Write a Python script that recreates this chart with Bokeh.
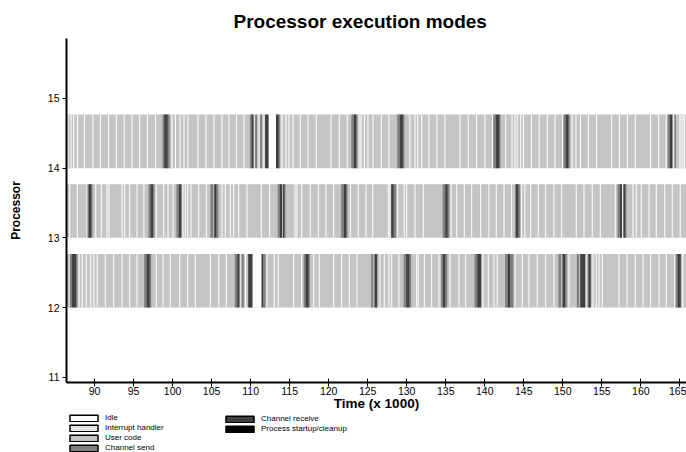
from bokeh.plotting import figure
from bokeh.layouts import column
from bokeh.models import ColumnDataSource, Legend, LegendItem, FixedTicker, Range1d
from bokeh.embed import file_html
from bokeh.resources import INLINE

# ---------------- data (times in thousands) ----------------
TITLE = "Processor execution modes"
X_LABEL = "Time (x 1000)"
Y_LABEL = "Processor"
X_TICKS = [90, 95, 100, 105, 110, 115, 120, 125, 130, 135, 140, 145, 150, 155, 160, 165]
Y_TICKS = [11, 12, 13, 14, 15]
PROCESSORS = [12, 13, 14]
TRACE_START, TRACE_END = 86.41, 165.85
Y_AXIS_START, Y_AXIS_END = 10.925, 15.86
BAR_HEIGHT = 0.77
IDLE_DUR = 0.13

MODES = ["Idle", "Interrupt handler", "User code", "Channel send",
         "Channel receive", "Process startup/cleanup"]
MODE_COLORS = ["#ffffff", "#e6e6e6", "#c4c4c4", "#808080", "#404040", "#000000"]

# short idle gaps (start times)
idle_12 = [86.76, 87.95, 88.37, 88.88, 89.45, 89.87, 90.29, 91.32, 92.39, 93.46, 94.44,
           95.38, 97.85, 98.71, 99.64, 100.85, 101.87, 102.85, 104.77, 105.85, 106.82,
           108.70, 109.28, 112.03, 112.97, 113.48, 115.45, 116.48, 118.02, 118.73, 120.58,
           121.60, 122.58, 123.57, 126.51, 127.06, 127.66, 128.01, 128.94, 131.21, 131.42,
           132.19, 133.13, 134.07, 135.48, 136.63, 137.49, 139.71, 140.39, 141.12, 141.54,
           143.81, 144.74, 145.60, 146.66, 147.74, 148.80, 150.73, 153.03, 153.80, 154.22,
           154.57, 154.99, 157.13, 158.16, 159.22, 160.21, 161.19, 162.26, 163.19, 164.27,
           165.33]
idle_13 = [86.76, 87.73, 88.97, 90.09, 90.80, 91.53, 91.79, 93.46, 93.80, 94.44, 95.38,
           96.27, 97.85, 98.80, 99.35, 99.99, 101.27, 101.57, 101.87, 102.30, 103.28,
           104.26, 106.27, 106.69, 107.33, 107.77, 108.41, 109.47, 111.30, 112.38, 114.04,
           115.62, 115.88, 116.48, 117.58, 118.61, 119.59, 120.58, 122.71, 123.73, 124.72,
           125.58, 127.57, 127.79, 128.78, 129.62, 129.93, 131.00, 132.06, 135.61, 136.34,
           137.31, 138.26, 139.41, 140.47, 141.41, 142.40, 143.38, 144.66, 145.09, 145.82,
           146.79, 147.74, 148.80, 149.79, 151.66, 152.65, 153.71, 154.74, 156.66, 157.64,
           158.93, 159.35, 159.99, 160.98, 161.91, 162.99, 163.96, 164.98]
idle_14 = [86.54, 86.92, 87.27, 87.76, 88.65, 89.74, 90.70, 91.73, 92.73, 93.74, 94.74,
           95.72, 96.72, 97.75, 99.86, 100.31, 100.89, 101.40, 101.91, 103.19, 104.22,
           105.24, 106.27, 107.17, 108.13, 109.09, 110.50, 111.01, 111.65, 113.96, 114.47,
           114.85, 115.37, 116.30, 117.29, 118.35, 120.23, 121.30, 122.32, 124.53, 124.97,
           125.61, 126.68, 127.66, 130.35, 130.99, 131.34, 131.85, 132.79, 133.81, 134.84,
           136.76, 137.82, 138.88, 139.97, 140.93, 142.62, 143.43, 143.81, 144.10, 144.54,
           144.90, 145.92, 146.91, 147.95, 148.93, 149.89, 151.14, 151.62, 152.20, 153.22,
           154.26, 156.20, 157.19, 158.22, 159.22, 161.17, 162.22, 163.18, 164.18, 165.52]

# longer idle periods (start, end)
idle_long_12 = [(110.24, 111.40)]
idle_long_13 = []
idle_long_14 = [(112.33, 113.25)]

# interrupt handler (start, end)
interrupt_12 = []
interrupt_13 = []
interrupt_14 = [(123.82, 124.27), (164.88, 165.58)]

# channel send (start, end)
send_12 = [(86.83, 87.11), (87.63, 87.82), (96.36, 96.66), (97.08, 97.26), (107.97, 108.28),
           (108.83, 109.13), (111.61, 111.91), (116.81, 117.03), (117.45, 117.58),
           (125.45, 125.70), (129.62, 129.93), (130.35, 130.57), (134.42, 134.62),
           (134.93, 135.19), (138.68, 139.03), (142.62, 142.95), (143.26, 143.68),
           (149.44, 149.79), (150.30, 150.51), (151.79, 152.10), (153.16, 153.29),
           (164.47, 164.69)]
send_13 = [(89.10, 89.23), (89.61, 89.74), (96.92, 97.17), (97.52, 97.68), (100.50, 100.80),
           (104.86, 105.21), (105.63, 105.85), (113.48, 113.74), (114.34, 114.47),
           (121.60, 121.94), (122.28, 122.41), (128.34, 128.65), (134.62, 134.93),
           (135.26, 135.48), (143.89, 143.97), (144.32, 144.54), (157.02, 157.32),
           (157.99, 158.16)]
send_14 = [(98.71, 98.93), (99.39, 99.64), (109.92, 110.11), (110.57, 110.82),
           (111.21, 111.46), (113.61, 113.74), (122.90, 123.22), (123.56, 123.69),
           (128.78, 129.10), (129.52, 129.71), (141.09, 141.40), (141.89, 142.01),
           (150.08, 150.37), (150.75, 150.88), (163.43, 163.70), (164.30, 164.49)]

# channel receive (start, end)
recv_12 = [(87.11, 87.63), (96.66, 97.08), (108.28, 108.57), (109.69, 110.24),
           (111.40, 111.61), (117.03, 117.45), (125.87, 126.22), (129.93, 130.35),
           (134.62, 134.93), (139.03, 139.54), (142.95, 143.26), (149.96, 150.30),
           (152.23, 152.87), (153.29, 153.58), (164.69, 165.12)]
recv_13 = [(89.23, 89.61), (97.17, 97.52), (100.80, 101.14), (105.33, 105.63),
           (113.74, 114.04), (114.12, 114.34), (121.94, 122.28), (128.01, 128.34),
           (134.93, 135.26), (143.97, 144.32), (157.32, 157.58), (157.76, 158.01)]
recv_14 = [(98.93, 99.39), (110.11, 110.37), (111.84, 112.29), (113.25, 113.61),
           (123.22, 123.56), (129.10, 129.52), (141.40, 141.89), (150.37, 150.75),
           (163.70, 164.04)]

# ---------------- build sources ----------------
def build(per_proc):
    left, right, bottom, top = [], [], [], []
    for proc, segs in per_proc:
        for s, e in segs:
            left.append(s)
            right.append(e)
            bottom.append(proc)
            top.append(proc + BAR_HEIGHT)
    return ColumnDataSource(dict(left=left, right=right, bottom=bottom, top=top))

user_src = build([(pr, [(TRACE_START, TRACE_END)]) for pr in PROCESSORS])
idle_src = build([(12, [(t, t + IDLE_DUR) for t in idle_12] + idle_long_12),
                  (13, [(t, t + IDLE_DUR) for t in idle_13] + idle_long_13),
                  (14, [(t, t + IDLE_DUR) for t in idle_14] + idle_long_14)])
intr_src = build([(12, interrupt_12), (13, interrupt_13), (14, interrupt_14)])
send_src = build([(12, send_12), (13, send_13), (14, send_14)])
recv_src = build([(12, recv_12), (13, recv_13), (14, recv_14)])

FONT = "Liberation Sans"

# ---------------- main chart ----------------
p = figure(frame_width=620, frame_height=344,
           x_range=Range1d(TRACE_START, TRACE_END), y_range=Range1d(Y_AXIS_START, Y_AXIS_END),
           output_backend="svg", toolbar_location=None,
           min_border_left=66, min_border_right=0, min_border_top=38, min_border_bottom=30)

p.title.text = TITLE
p.title.text_font = FONT
p.title.text_font_size = "19px"
p.title.text_font_style = "bold"
p.title.text_color = "black"
p.title.align = "left"
p.title.offset = 167
p.title.standoff = 14

p.outline_line_color = None
p.grid.visible = False
p.background_fill_color = "white"

for src, col in [(user_src, MODE_COLORS[2]), (idle_src, MODE_COLORS[0]),
                 (intr_src, MODE_COLORS[1]), (send_src, MODE_COLORS[3]),
                 (recv_src, MODE_COLORS[4])]:
    p.quad(left="left", right="right", bottom="bottom", top="top", source=src,
           fill_color=col, line_color=None)

p.xaxis.ticker = FixedTicker(ticks=X_TICKS)
p.yaxis.ticker = FixedTicker(ticks=Y_TICKS)
for ax in (p.xaxis[0], p.yaxis[0]):
    ax.axis_line_width = 2
    ax.axis_line_color = "black"
    ax.major_tick_line_color = "black"
    ax.minor_tick_line_color = None
    ax.major_label_text_font = FONT
    ax.major_label_text_font_size = "10.5px"
    ax.major_label_text_color = "black"
    ax.axis_label_text_font = FONT
    ax.axis_label_text_font_style = "bold"
    ax.axis_label_text_color = "black"
p.xaxis.axis_label = X_LABEL
p.xaxis.axis_label_text_font_size = "13.5px"
p.xaxis.major_tick_in = 4
p.xaxis.major_tick_out = 4
p.xaxis.major_label_standoff = 0
p.xaxis.axis_label_standoff = -2
p.yaxis.axis_label = Y_LABEL
p.yaxis.axis_label_text_font_size = "12px"
p.yaxis.major_tick_in = 0
p.yaxis.major_tick_out = 4
p.yaxis.major_label_standoff = 3
p.yaxis.axis_label_standoff = 22

# ---------------- legend strip ----------------
# the swatch renderers reuse the mode data; the strip's own ranges keep those marks out of view
lf = figure(width=686, height=39, x_range=Range1d(0, 1), y_range=Range1d(0, 1),
            output_backend="svg", toolbar_location=None,
            x_axis_location=None, y_axis_location=None,
            min_border_left=0, min_border_right=0, min_border_top=0, min_border_bottom=0)
lf.outline_line_color = None
lf.grid.visible = False

swatch_sources = [idle_src, intr_src, user_src, send_src, recv_src, user_src]
leg_renderers = []
for col, src in zip(MODE_COLORS, swatch_sources):
    if len(src.data["left"]) == 0:
        src = user_src
    r = lf.quad(left="left", right="right", bottom="bottom", top="top", source=src,
                fill_color=col, line_color="black", line_width=1.5)
    leg_renderers.append(r)

def make_legend(idx, loc):
    return Legend(items=[LegendItem(label=MODES[i], renderers=[leg_renderers[i]]) for i in idx],
                  location=loc, orientation="vertical", glyph_width=35, glyph_height=8,
                  label_height=8, label_width=10, spacing=1, padding=0, margin=0,
                  label_standoff=4, label_text_font=FONT, label_text_font_size="8px",
                  label_text_color="black",
                  border_line_color=None, background_fill_alpha=0)

lf.add_layout(make_legend([0, 1, 2, 3], (0, 0)))
lf.add_layout(make_legend([4, 5], (156, 19)))

layout = column(p, lf, spacing=0)
open("out.html", "w").write(file_html(layout, INLINE))
